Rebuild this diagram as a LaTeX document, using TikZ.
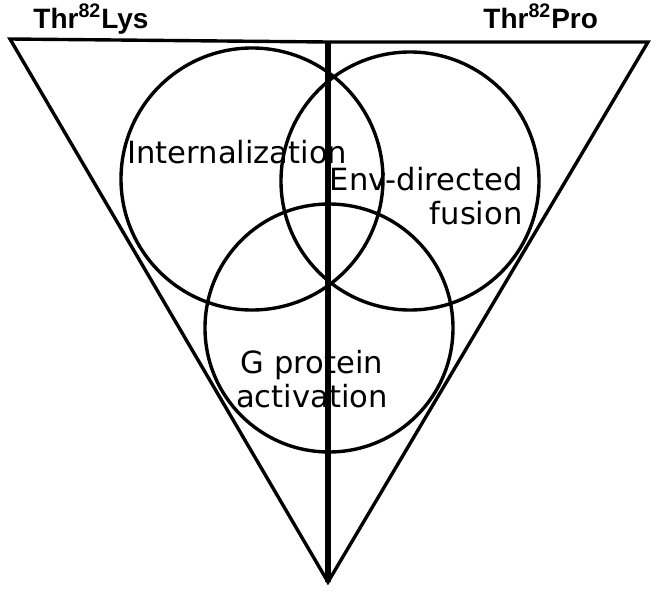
\documentclass[tikz,border=0pt]{standalone}
\usepackage{fontspec}
\setmainfont{DejaVu Sans}
\newfontfamily\headfont{Liberation Sans}

\begin{document}
\begin{tikzpicture}[x=0.5pt,y=-0.5pt,line join=miter,
  ring/.style={draw,circle,line width=1.7pt,inner sep=0pt},
  side/.style={line width=1.7pt},
  word/.style={font=\fontsize{15.3}{17}\selectfont,inner sep=0pt},
  head/.style={font=\headfont\bfseries\fontsize{14}{16}\selectfont,inner sep=0pt}]

  \useasboundingbox (0,0) rectangle (660,594);

  \coordinate (lt) at (10,39);
  \coordinate (mt) at (328,42);
  \coordinate (rt) at (648,42);
  \coordinate (bt) at (328,582);

  \node[ring,minimum size=131pt] (1) at (252,179) {};
  \node[ring,minimum size=129pt] (2) at (410,181) {};
  \node[ring,minimum size=124pt] (3) at (329,328) {};

  \draw[side] (lt) -- (mt) -- (rt) -- (bt) -- cycle;
  \draw[line width=2.8pt] (mt) -- (bt);

  \node[word,anchor=base west] (i) at (127,163) {Internalization};
  \node[word,anchor=base east,align=right] (e) at (523,224) {Env-directed\\fusion};
  \node[word,anchor=base,align=center] (g) at (312,407) {G protein\\activation};

  \node[head,anchor=base west] (k) at (33,28) {Thr\textsuperscript{82}Lys};
  \node[head,anchor=base west] (p) at (483,28) {Thr\textsuperscript{82}Pro};
\end{tikzpicture}
\end{document}
